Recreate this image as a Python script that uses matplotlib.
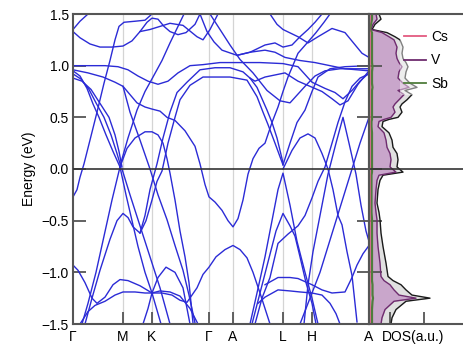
import numpy as np
import matplotlib
matplotlib.use("Agg")
import matplotlib.pyplot as plt

plt.rcParams['font.family'] = ['Liberation Sans', 'DejaVu Sans']

# high-symmetry path (k distance, arbitrary units)
k_ticks = [73, 123, 152, 209, 233, 283, 312, 369]
k_labels = ['Γ', 'M', 'K', 'Γ', 'A', 'L', 'H', 'A']

# bands: (k, E) pairs
bands = [
    [(73, 1.35), (80, 1.43), (88, 1.5)],
    [(73, 1.33), (80, 1.27), (90, 1.21), (100, 1.18), (112, 1.18), (123, 1.19), (132, 1.24), (140, 1.33),
     (147, 1.42), (152, 1.46), (158, 1.45), (164, 1.38), (170, 1.33), (178, 1.3), (186, 1.32), (195, 1.4), (200, 1.5)],
    [(73, -0.27), (77, -0.2), (80, -0.08), (84, 0.05), (90, 0.28), (97, 0.55), (104, 0.83), (110, 1.05),
     (115, 1.25), (119, 1.38), (124, 1.42), (135, 1.43), (145, 1.44), (152, 1.5)],
    [(73, 1.0), (90, 1.0), (105, 1.0), (118, 0.99), (128, 0.96), (138, 0.9), (148, 0.85), (158, 0.82),
     (168, 0.85), (178, 0.93), (190, 1.0), (203, 1.01), (220, 1.03), (240, 1.03), (260, 1.03), (283, 1.02),
     (298, 0.99), (312, 0.84), (325, 0.78), (335, 0.74), (343, 0.68), (352, 0.76), (360, 0.85), (369, 0.93)],
    [(73, 0.95), (80, 0.9), (87, 0.78), (93, 0.63), (99, 0.5), (106, 0.33), (113, 0.17), (120, 0.02)],
    [(73, 0.92), (81, 0.87), (89, 0.77), (96, 0.64), (104, 0.5), (111, 0.33), (117, 0.15), (121, 0.02)],
    [(73, 0.88), (82, 0.85), (91, 0.77), (99, 0.65), (109, 0.5), (115, 0.33), (119, 0.17), (122, 0.02)],
    [(73, 0.96), (88, 0.93), (103, 0.89), (115, 0.84), (123, 0.8), (130, 0.72), (137, 0.64), (145, 0.6),
     (152, 0.58), (160, 0.56), (167, 0.5), (175, 0.47), (185, 0.37), (195, 0.22), (200, 0.05), (205, -0.15),
     (209, -0.27), (215, -0.32), (222, -0.4), (228, -0.5), (233, -0.56), (238, -0.48), (243, -0.3),
     (248, -0.05), (253, 0.1), (259, 0.2), (265, 0.25), (272, 0.45), (278, 0.6), (283, 0.75), (288, 0.89),
     (298, 1.12), (308, 1.23), (316, 1.32), (324, 1.42), (330, 1.5)],
    [(140, -0.62), (145, -0.45), (150, -0.2), (157, 0.05), (163, 0.3), (170, 0.55), (177, 0.74), (187, 0.84),
     (200, 0.96), (215, 0.98), (230, 0.98), (243, 0.94), (250, 0.88), (257, 0.79), (262, 0.68), (267, 0.57),
     (272, 0.45), (277, 0.3), (283, 0.06)],
    [(85, -1.5), (92, -1.25), (100, -0.98), (110, -0.68), (117, -0.5), (123, -0.43), (128, -0.47),
     (133, -0.56), (140, -0.62), (146, -0.5), (152, -0.3), (157, -0.12), (162, -0.02), (168, 0.25),
     (175, 0.5), (180, 0.67), (190, 0.81), (203, 0.89), (230, 0.89), (247, 0.86), (257, 0.7), (263, 0.55),
     (268, 0.43), (275, 0.25), (283, 0.04)],
    [(120, 0.02), (127, 0.2), (135, 0.3), (145, 0.36), (152, 0.36), (158, 0.33), (163, 0.25), (167, 0.1),
     (170, -0.04), (175, -0.3), (180, -0.6), (185, -0.85), (189, -1.1), (193, -1.49)],
    [(120, 0.03), (128, 0.3), (137, 0.57), (145, 0.75), (153, 0.89), (162, 1.05), (170, 1.22), (178, 1.38),
     (184, 1.5)],
    [(120, 0.02), (126, -0.25), (132, -0.5), (138, -0.75), (145, -1.0), (152, -1.2), (158, -1.4), (161, -1.5)],
    [(120, 0.02), (112, -0.3), (104, -0.65), (96, -1.0), (88, -1.3), (82, -1.5)],
    [(122, 0.0), (130, -0.25), (140, -0.55), (150, -0.85), (160, -1.15), (170, -1.5)],
    [(73, -0.93), (78, -0.98), (85, -1.1), (92, -1.25), (97, -1.3), (105, -1.24), (113, -1.12), (120, -1.07),
     (128, -1.08), (140, -1.13), (152, -1.2), (162, -1.2), (172, -1.22), (180, -1.27), (187, -1.29),
     (197, -1.15), (203, -1.02), (209, -0.95), (216, -0.85), (225, -0.78), (233, -0.74), (240, -0.78),
     (247, -0.86), (253, -1.0), (260, -1.2), (266, -1.38), (270, -1.5)],
    [(80, -1.5), (88, -1.38), (95, -1.32), (105, -1.28), (115, -1.22), (123, -1.19), (135, -1.19),
     (145, -1.2), (152, -1.2), (160, -1.18), (170, -1.19), (180, -1.23), (190, -1.35), (198, -1.5)],
    [(143, -1.5), (148, -1.35), (152, -1.2), (158, -1.05), (166, -0.95), (175, -1.0), (183, -1.15), (190, -1.5)],
    [(123, 0.8), (130, 0.55), (140, 0.28), (150, 0.0), (158, -0.25), (167, -0.49), (175, -0.74), (183, -0.98),
     (189, -1.22), (195, -1.49)],
    [(250, -1.5), (257, -1.2), (265, -0.85), (272, -0.5), (278, -0.2), (283, -0.04), (290, -0.35),
     (297, -0.7), (305, -1.0), (312, -1.25), (318, -1.5)],
    [(252, -1.5), (260, -1.2), (268, -0.9), (276, -0.6), (283, -0.43), (290, -0.55), (295, -0.65),
     (300, -0.85), (306, -1.1), (312, -1.3), (316, -1.5)],
    [(255, -1.5), (262, -1.25), (270, -1.05), (278, -0.72), (288, -0.63), (298, -0.55), (305, -0.45),
     (312, -0.28), (318, -0.12), (325, 0.02), (332, 0.25), (338, 0.45), (345, 0.65), (352, 0.8),
     (360, 0.88), (369, 0.92)],
    [(265, -1.12), (278, -1.05), (290, -1.05), (298, -1.06), (312, -1.12), (322, -1.17), (332, -1.2),
     (345, -1.19), (352, -1.05), (357, -0.93), (363, -0.82), (369, -0.74)],
    [(258, -1.3), (265, -1.24), (278, -1.17), (290, -1.18), (300, -1.19), (312, -1.2), (322, -1.22),
     (330, -1.3), (336, -1.4), (340, -1.5)],
    [(300, -1.5), (306, -1.35), (312, -1.2), (320, -1.0), (328, -0.75), (336, -0.5), (344, -0.25),
     (352, 0.0), (360, 0.25), (369, 0.5)],
    [(283, 0.04), (290, 0.25), (297, 0.45), (305, 0.57), (312, 0.75), (318, 0.89), (330, 0.97),
     (345, 0.99), (369, 1.0)],
    [(283, 0.0), (292, 0.18), (300, 0.3), (308, 0.34), (315, 0.3), (322, 0.15), (328, 0.0), (333, -0.2),
     (338, -0.45), (342, -0.54), (347, -0.8), (352, -1.03), (357, -1.48)],
    [(304, -1.5), (308, -1.12), (313, -0.8), (318, -0.55), (322, -0.35), (328, -0.05), (336, 0.25),
     (343, 0.5), (349, 0.25), (356, -0.05), (361, -0.35), (366, -0.6), (369, -0.7)],
    [(250, 0.88), (255, 0.85), (265, 0.89), (285, 0.93), (298, 0.85), (310, 0.8), (322, 0.75), (332, 0.68),
     (340, 0.62), (348, 0.66), (358, 0.82), (369, 0.95)],
    [(210, 1.5), (220, 1.35), (230, 1.2), (240, 1.06), (253, 0.93), (267, 0.76), (280, 0.66), (290, 0.64),
     (305, 0.8), (315, 0.9), (325, 0.95), (340, 0.97), (355, 0.97), (369, 0.97)],
    [(200, 1.5), (207, 1.33), (214, 1.23), (222, 1.15), (237, 1.1), (250, 1.13), (265, 1.15), (275, 1.13),
     (285, 1.08), (300, 1.05), (315, 1.03), (330, 1.0), (345, 0.97), (369, 0.95)],
    [(140, 1.33), (150, 1.35), (170, 1.41), (183, 1.39), (197, 1.28), (203, 1.25), (210, 1.35), (218, 1.5)],
    [(237, 1.1), (250, 1.13), (265, 1.2), (275, 1.22), (283, 1.18), (292, 1.2), (300, 1.28), (308, 1.35),
     (315, 1.42), (322, 1.5)],
    [(270, 1.5), (277, 1.4), (283, 1.35), (298, 1.28), (308, 1.22), (318, 1.28), (332, 1.36), (345, 1.32),
     (362, 1.12), (369, 1.08)],
]

# density of states (a.u.), energy grid
dos_E = [1.5, 1.45, 1.4, 1.35, 1.32, 1.28, 1.25, 1.18, 1.12, 1.07, 1.03, 0.99, 0.94, 0.88, 0.83, 0.79,
         0.76, 0.72, 0.67, 0.63, 0.6, 0.55, 0.5, 0.48, 0.46, 0.41, 0.35, 0.28, 0.21, 0.15, 0.09, 0.02,
         -0.03, -0.06, -0.11, -0.2, -0.33, -0.42, -0.49, -0.62, -0.75, -0.91, -1.04, -1.08, -1.12, -1.17,
         -1.22, -1.25, -1.28, -1.36, -1.44, -1.5]
dos_tot = [1.0, 1.2, 0.6, 0.3, 1.8, 2.6, 3.1, 3.4, 3.3, 3.4, 3.7, 3.9, 3.7, 3.6, 4.1, 4.8,
           3.6, 4.3, 3.8, 3.3, 3.1, 3.3, 2.9, 2.0, 1.4, 1.3, 2.0, 2.3, 2.4, 2.8, 2.9, 2.8,
           3.4, 1.4, 1.1, 0.9, 0.8, 1.0, 1.1, 1.2, 1.4, 1.7, 1.9, 2.4, 3.2, 3.7,
           4.3, 6.1, 3.7, 2.7, 2.3, 2.2]
dos_V = [0.7, 0.8, 0.4, 0.2, 1.3, 2.0, 2.5, 2.8, 2.7, 2.8, 3.0, 3.3, 3.0, 2.9, 3.4, 4.0,
         2.9, 3.5, 3.0, 2.6, 2.4, 2.6, 2.2, 1.5, 1.0, 0.9, 1.5, 1.7, 1.8, 2.1, 2.2, 2.1,
         2.7, 1.0, 0.8, 0.7, 0.6, 0.7, 0.8, 0.8, 0.9, 1.1, 1.2, 1.5, 2.1, 2.5,
         3.0, 4.7, 2.5, 1.6, 1.3, 1.2]
dos_Sb = [0.3, 0.3, 0.2, 0.1, 0.3, 0.3, 0.3, 0.3, 0.3, 0.3, 0.3, 0.35, 0.3, 0.3, 0.3, 0.35,
          0.3, 0.3, 0.3, 0.3, 0.3, 0.3, 0.3, 0.3, 0.25, 0.25, 0.3, 0.3, 0.3, 0.3, 0.3, 0.3,
          0.3, 0.25, 0.25, 0.25, 0.25, 0.25, 0.3, 0.3, 0.3, 0.3, 0.3, 0.3, 0.35, 0.35,
          0.35, 0.4, 0.35, 0.3, 0.3, 0.3]
dos_Cs = [0.1, 0.1, 0.05, 0.05, 0.1, 0.1, 0.1, 0.1, 0.1, 0.1, 0.1, 0.1, 0.1, 0.1, 0.1, 0.1,
          0.1, 0.1, 0.1, 0.1, 0.1, 0.1, 0.1, 0.1, 0.1, 0.1, 0.1, 0.1, 0.1, 0.1, 0.1, 0.1,
          0.1, 0.1, 0.1, 0.1, 0.1, 0.1, 0.1, 0.1, 0.1, 0.1, 0.1, 0.1, 0.1, 0.1,
          0.1, 0.1, 0.1, 0.1, 0.1, 0.1]

azul = '#2b2bd6'
gris = '#555555'

fig = plt.figure(figsize=(4.63, 3.52), dpi=100)
ax = fig.add_axes([73/463, 28/352, 296/463, 310/352])
ax2 = fig.add_axes([369/463, 28/352, 100/463, 310/352])

for kx in k_ticks[1:-1]:
    ax.axvline(kx, color='#d4d4d4', lw=0.9, zorder=1)
for b in bands:
    kk, ee = zip(*b)
    ax.plot(kk, ee, color=azul, lw=1.0, zorder=2)
ax.axhline(0, color='#333333', lw=1.2, zorder=3)

ax.set_xlim(73, 369)
ax.set_ylim(-1.5, 1.5)
ax.set_xticks(k_ticks)
ax.set_xticklabels(k_labels)
ax.set_yticks([-1.5, -1.0, -0.5, 0.0, 0.5, 1.0, 1.5])
ax.set_yticklabels(['−1.5', '−1.0', '−0.5', '0.0', '0.5', '1.0', '1.5'])
ax.tick_params(axis='both', direction='in', length=9, width=1.3, color=gris, labelsize=10, pad=3)
ax.tick_params(axis='x', pad=4)
ax.set_ylabel('Energy (eV)', fontsize=10, labelpad=4)
for s in ax.spines.values():
    s.set_color(gris)
    s.set_linewidth(1.5)

# DOS panel
ax2.fill_betweenx(dos_E, 0, dos_tot, color='#e0e0e0', lw=0)
ax2.fill_betweenx(dos_E, 0, dos_V, color='#c9a6cb', lw=0)
ax2.plot(dos_tot, dos_E, color='#1a1a1a', lw=1.0)
ax2.plot(dos_V, dos_E, color='#6e2c6e', lw=1.0, label='V')
ax2.plot(dos_Sb, dos_E, color='#4f7d3c', lw=1.6, label='Sb')
ax2.plot(dos_Cs, dos_E, color='#e35a80', lw=1.0, label='Cs')
ax2.axhline(0, color='#333333', lw=1.2)
ax2.set_xlim(0, 10)
ax2.set_ylim(-1.5, 1.5)
ax2.set_xticks([2.1, 5.5])
ax2.set_xticklabels(['', ''])
ax2.set_yticks([-1.0, -0.5, 0.0, 0.5, 1.0])
ax2.set_yticklabels([])
ax2.tick_params(axis='x', direction='in', length=9, width=1.3, color=gris)
ax2.tick_params(axis='y', direction='inout', length=18, width=1.3, color=gris)
ax2.spines['right'].set_visible(False)
for s in ['left', 'top', 'bottom']:
    ax2.spines[s].set_color(gris)
    ax2.spines[s].set_linewidth(1.5)

h, l = ax2.get_legend_handles_labels()
order = [2, 0, 1]
leg = ax2.legend([h[i] for i in order], [l[i] for i in order], loc='upper right',
                 bbox_to_anchor=(0.9, 0.985), fontsize=10, handlelength=1.6, handletextpad=0.35,
                 labelspacing=0.7, frameon=True, framealpha=0.45, edgecolor='none', borderpad=0.3)
for line in leg.get_lines():
    line.set_linewidth(1.3)

fig.text(413/463, 1 - 337/352, 'DOS(a.u.)', ha='center', va='center', fontsize=10)

fig.savefig('out.png', dpi=100)
